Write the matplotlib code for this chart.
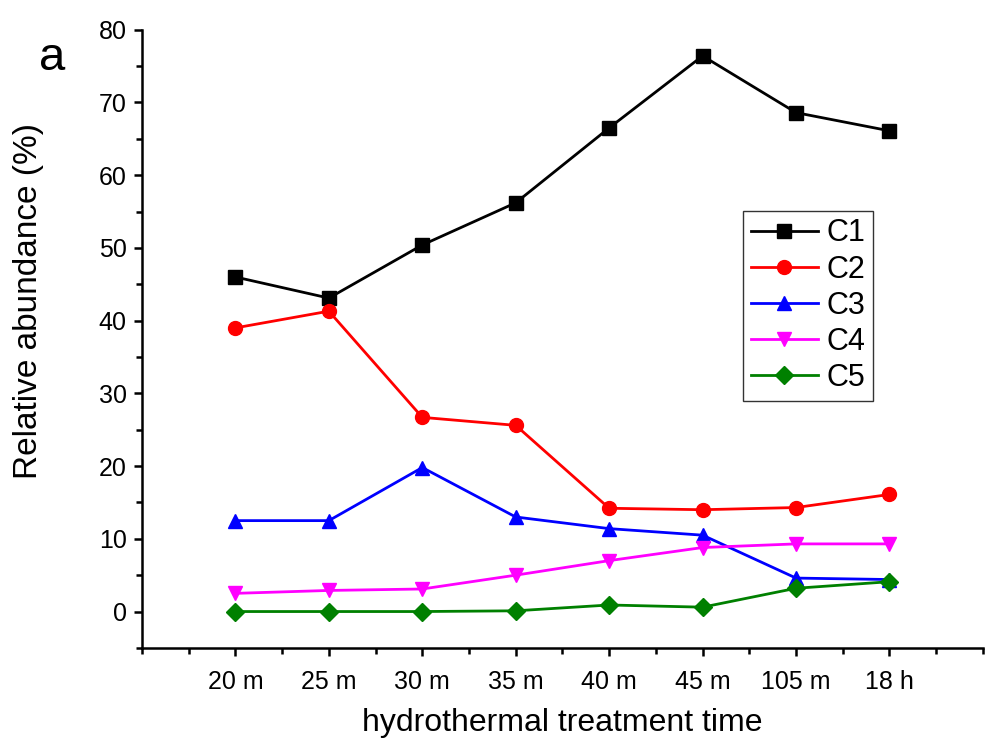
import matplotlib
matplotlib.use("Agg")
import matplotlib.pyplot as plt
from matplotlib.ticker import MultipleLocator

plt.rcParams['font.family'] = ['Liberation Sans', 'DejaVu Sans']

# data
times = ["20 m", "25 m", "30 m", "35 m", "40 m", "45 m", "105 m", "18 h"]
c1 = [46.0, 43.1, 50.4, 56.2, 66.5, 76.4, 68.6, 66.1]
c2 = [39.0, 41.3, 26.7, 25.6, 14.2, 14.0, 14.3, 16.1]
c3 = [12.5, 12.5, 19.8, 13.0, 11.4, 10.5, 4.6, 4.4]
c4 = [2.5, 2.9, 3.1, 5.0, 7.0, 8.8, 9.3, 9.3]
c5 = [0.0, 0.0, 0.0, 0.1, 0.9, 0.6, 3.2, 4.1]

series = [("C1", c1, "black", "s"),
          ("C2", c2, "red", "o"),
          ("C3", c3, "blue", "^"),
          ("C4", c4, "magenta", "v"),
          ("C5", c5, "green", "D")]

fig = plt.figure(figsize=(10.04, 7.43), dpi=100)
ax = fig.add_axes([0.1414, 0.128, 0.8376, 0.832])

x = list(range(1, len(times) + 1))
for name, vals, col, mk in series:
    ms = 9 if mk == "D" else 10
    ax.plot(x, vals, color=col, marker=mk, markersize=ms, linewidth=2.0, label=name)

ax.set_xlim(0, 9)
ax.set_ylim(-5, 80)
ax.set_xticks(x)
ax.set_xticklabels(times)
ax.xaxis.set_minor_locator(MultipleLocator(0.5))
ax.set_yticks(range(0, 81, 10))
ax.yaxis.set_minor_locator(MultipleLocator(5))

for s in ["top", "right"]:
    ax.spines[s].set_visible(False)
for s in ["left", "bottom"]:
    ax.spines[s].set_linewidth(1.8)

ax.tick_params(which="major", direction="out", length=6, width=1.8, labelsize=18)
ax.tick_params(axis="x", which="major", pad=10)
ax.tick_params(axis="y", which="major", pad=5)
ax.tick_params(which="minor", direction="out", length=4, width=1.8)

ax.set_xlabel("hydrothermal treatment time", fontsize=23, labelpad=10)
ax.set_ylabel("Relative abundance (%)", fontsize=24)
ax.yaxis.set_label_coords(-0.117, 0.561)

leg = ax.legend(loc="upper left", bbox_to_anchor=(0.7146, 0.707), fontsize=22,
                fancybox=False, framealpha=1, edgecolor="#333333",
                handlelength=2.2, borderpad=0.25, labelspacing=0.2, handletextpad=0.3,
                borderaxespad=0)
leg.get_frame().set_linewidth(1.0)

fig.text(0.052, 0.922, "a", fontsize=34, ha="center", va="center")

fig.savefig("out.png", dpi=100)
